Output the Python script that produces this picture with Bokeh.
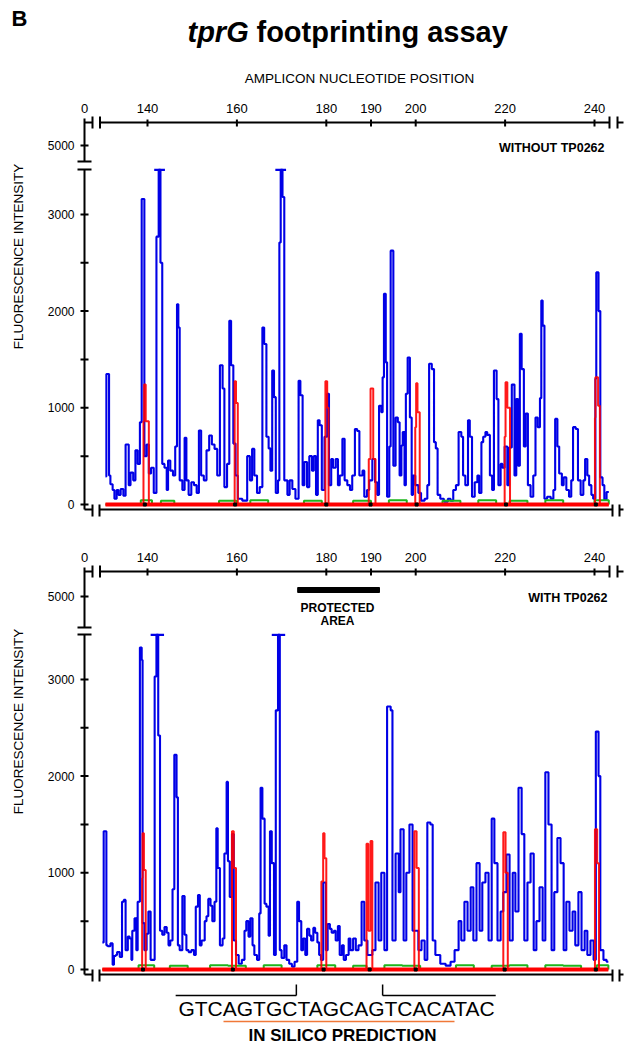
import math
from bokeh.plotting import figure
from bokeh.models import Range1d
from bokeh.core.properties import value
from bokeh.embed import file_html
from bokeh.resources import INLINE

# ---------------- data ----------------
top_tick_pos = [140, 160, 180, 190, 200, 220, 240]
top_tick_labels = ["140", "160", "180", "190", "200", "220", "240"]
y_tick_vals = [0, 500, 1000, 1500, 2000, 2500, 3000]
y_label_vals = [0, 1000, 2000, 3000]
y_label_text = ["0", "1000", "2000", "3000"]
upper_tick_label = "5000"
clip_level = 3460

# panel 1 (without TP0262) blue trace: nucleotide position / intensity
blue1_pos = [130.6, 130.8, 131.4, 131.7, 132.2, 132.6, 133.1, 133.5, 134.0, 134.6,
             135.1, 135.8, 136.2, 136.8, 137.3, 137.8, 138.3, 138.7, 139.3, 139.8,
             140.3, 140.8, 141.4, 142.0, 142.5, 142.9, 143.3, 143.8, 144.3, 144.6,
             145.1, 145.7, 146.2, 146.6, 146.9, 147.2, 147.8, 148.3, 148.7, 149.2,
             149.8, 150.4, 151.0, 151.5, 152.0, 152.6, 153.2, 153.8, 154.4, 155.0,
             155.6, 156.2, 156.8, 157.2, 157.8, 158.3, 158.7, 159.2, 159.7, 160.2,
             161.2, 162.3, 162.9, 163.4, 163.9, 164.5, 165.1, 165.7, 166.1, 166.6,
             167.1, 167.5, 167.9, 168.3, 168.7, 169.2, 169.5, 169.8, 170.2, 170.6,
             171.3, 171.8, 172.4, 173.1, 173.8, 174.2, 174.7, 175.1, 175.7, 176.2,
             176.8, 177.2, 177.7, 178.1, 178.5, 179.0, 179.6, 180.2, 180.6, 181.1,
             181.5, 182.1, 182.6, 183.0, 183.6, 184.1, 184.7, 185.3, 185.8, 186.4,
             186.9, 187.4, 188.1, 188.5, 189.1, 189.6, 190.3, 190.9, 191.4, 191.8,
             192.3, 192.6, 192.9, 193.3, 193.6, 194.1, 194.4, 195.0, 195.5, 196.0,
             196.4, 196.8, 197.1, 197.5, 197.8, 198.2, 198.7, 199.1, 199.4, 199.9,
             200.6, 201.2, 202.0, 202.6, 203.0, 203.6, 204.1, 204.5, 204.9, 205.5,
             206.3, 207.2, 207.8, 208.4, 209.0, 209.6, 210.2, 210.6, 211.1, 211.7,
             212.1, 212.6, 213.2, 213.8, 214.2, 214.7, 215.1, 215.6, 216.0, 216.6,
             217.1, 217.5, 218.1, 218.5, 219.0, 219.4, 219.9, 220.5, 220.9, 221.5,
             222.1, 222.5, 222.9, 223.3, 223.7, 224.2, 224.6, 225.1, 225.7, 226.3,
             226.8, 227.3, 227.8, 228.1, 228.4, 228.8, 229.4, 230.2, 230.8, 231.2,
             231.7, 232.1, 232.7, 233.1, 233.7, 234.3, 234.8, 235.2, 235.8, 236.3,
             236.9, 237.5, 237.9, 238.4, 238.8, 239.3, 239.7, 240.2, 240.4, 240.9,
             241.3, 241.8, 242.2, 242.7, 243.2]
blue1_val = [290, 1350, 300, 210, 150, 60, 150, 100, 160, 90,
             620, 200, 330, 250, 560, 420, 850, 3160, 500, 620,
             320, 380, 120, 2770, 3460, 2500, 420, 380, 150, 455,
             350, 300, 600, 2070, 1830, 250, 150, 690, 250, 100,
             230, 200, 120, 765, 300, 250, 560, 713, 620, 575,
             300, 1440, 1200, 180, 420, 1900, 1440, 630, 300, 60,
             40, 500, 250, 575, 300, 120, 180, 1830, 1660, 700,
             580, 350, 1385, 1110, 120, 250, 2710, 3460, 3180, 250,
             100, 250, 160, 60, 1280, 1130, 200, 440, 180, 500,
             350, 500, 100, 870, 820, 150, 700, 1145, 200, 470,
             380, 470, 200, 300, 680, 250, 200, 150, 300, 780,
             760, 300, 350, 80, 150, 250, 470, 230, 100, 1020,
             955, 1315, 2180, 1470, 80, 600, 2625, 400, 900, 850,
             300, 610, 750, 200, 1145, 1520, 900, 100, 300, 200,
             120, 40, 60, 200, 1455, 1400, 645, 580, 100, 60,
             30, 60, 40, 150, 200, 750, 700, 300, 200, 870,
             700, 80, 230, 300, 120, 645, 700, 750, 720, 300,
             150, 1385, 1090, 200, 420, 380, 600, 200, 590, 1240,
             300, 1090, 400, 1765, 1400, 600, 940, 200, 80, 300,
             900, 800, 1100, 2110, 1850, 60, 80, 60, 150, 885,
             600, 320, 200, 280, 150, 80, 250, 800, 780, 250,
             100, 250, 470, 300, 200, 100, 60, 1300, 2400, 2000,
             280, 200, 50, 130, 130]

# panel 2 (with TP0262) blue trace
blue2_pos = [129.9, 130.2, 130.8, 131.1, 131.7, 132.2, 132.5, 132.9, 133.2, 133.8,
             134.3, 134.7, 135.1, 135.6, 136.0, 136.4, 136.6, 137.1, 137.5, 137.8,
             138.3, 138.7, 138.9, 139.3, 139.8, 140.2, 140.7, 141.6, 142.0, 142.4,
             142.8, 143.3, 143.8, 144.3, 144.7, 145.1, 145.6, 146.0, 146.5, 146.8,
             147.2, 147.8, 148.3, 148.7, 149.2, 149.8, 150.4, 150.8, 151.3, 151.7,
             152.1, 152.8, 153.2, 153.6, 154.1, 154.5, 155.0, 155.4, 155.7, 156.2,
             156.8, 157.2, 157.7, 158.0, 158.4, 158.9, 159.3, 159.8, 160.4, 161.1,
             161.7, 162.1, 162.6, 163.0, 163.5, 163.9, 164.5, 165.0, 165.3, 165.7,
             166.2, 166.6, 167.1, 167.4, 167.8, 168.3, 168.7, 169.2, 169.6, 170.0,
             170.6, 171.1, 171.7, 172.3, 172.9, 173.5, 173.9, 174.4, 174.8, 175.3,
             175.7, 176.2, 176.6, 177.1, 177.5, 178.0, 178.4, 178.8, 179.3, 179.9,
             180.3, 180.8, 181.2, 181.7, 182.1, 182.6, 183.0, 183.5, 183.9, 184.4,
             185.0, 185.4, 186.0, 186.6, 187.2, 187.9, 188.5, 189.2, 190.3, 191.0,
             191.7, 192.3, 193.0, 193.6, 194.4, 194.8, 195.5, 196.2, 196.6, 197.3,
             197.9, 198.6, 199.3, 200.6, 201.3, 202.0, 202.6, 203.3, 203.8, 204.4,
             205.5, 206.7, 207.8, 208.7, 209.6, 210.2, 210.9, 211.6, 212.3, 212.9,
             213.6, 214.3, 214.9, 215.6, 216.3, 217.0, 217.6, 218.3, 219.0, 219.6,
             220.3, 221.0, 221.7, 222.3, 223.0, 223.7, 224.3, 225.0, 225.7, 226.4,
             227.0, 227.7, 228.4, 229.0, 229.7, 230.4, 231.0, 231.7, 232.4, 233.1,
             233.7, 234.4, 235.1, 235.7, 236.4, 237.1, 237.8, 238.4, 239.1, 239.8,
             240.3, 240.9, 241.3, 242.0, 242.7, 243.1]
blue2_val = [280, 1430, 250, 240, 270, 50, 140, 150, 180, 130,
             700, 720, 200, 340, 320, 100, 400, 530, 200, 700,
             3330, 3200, 480, 200, 370, 600, 100, 3030, 3460, 2420,
             400, 360, 440, 380, 250, 300, 830, 2220, 1780, 250,
             200, 760, 360, 200, 180, 200, 150, 650, 770, 250,
             300, 500, 550, 730, 660, 500, 700, 1460, 1050, 250,
             320, 1200, 1940, 1120, 750, 1400, 300, 150, 60, 100,
             400, 500, 340, 530, 250, 150, 100, 580, 1880, 1560,
             680, 650, 350, 1430, 1100, 150, 2680, 3460, 200, 120,
             250, 100, 60, 30, 80, 700, 500, 200, 320, 150,
             420, 350, 300, 430, 380, 280, 150, 100, 900, 200,
             470, 420, 380, 400, 300, 450, 150, 250, 100, 150,
             320, 200, 320, 200, 250, 700, 300, 150, 200, 900,
             300, 1000, 200, 2720, 2680, 300, 1200, 800, 1450, 300,
             1000, 1500, 400, 200, 300, 100, 1520, 1500, 300, 150,
             60, 40, 80, 200, 500, 300, 700, 400, 850, 300,
             1100, 400, 900, 1000, 300, 1560, 1100, 300, 600, 800,
             1190, 300, 1000, 600, 1880, 1400, 300, 900, 1200, 200,
             500, 850, 300, 2040, 1500, 200, 800, 1360, 1100, 200,
             700, 400, 600, 250, 800, 200, 400, 150, 300, 100,
             2460, 2000, 200, 100, 80, 80]

# red traces
red1_pos = [130.6, 139.1, 139.25, 139.6, 140.3, 159.5, 159.8, 160.2, 179.8, 180.2,
            180.5, 189.5, 189.9, 190.5, 191.0, 199.9, 200.1, 200.4, 200.9, 219.9,
            220.1, 220.5, 221.1, 240.1, 240.2, 240.8, 241.2, 243.2]
red1_val = [0, 860, 1240, 860, 0, 1275, 1050, 0, 1275, 1000,
            0, 470, 1200, 470, 0, 800, 1255, 955, 0, 700,
            1265, 1000, 0, 900, 1315, 1020, 0, 0]
red2_pos = [129.9, 138.8, 138.9, 139.2, 139.6, 158.9, 159.3, 159.8, 178.9, 179.3,
            179.6, 180.0, 189.0, 189.4, 189.9, 190.3, 199.7, 200.2, 200.7, 219.6,
            220.1, 220.6, 240.1, 240.6, 241.0, 243.1]
red2_val = [0, 945, 1410, 1030, 0, 1430, 1050, 0, 910, 1410,
            1150, 0, 1300, 400, 1330, 0, 1430, 1050, 0, 1420,
            1000, 0, 1450, 1100, 0, 0]

# green traces (low level, mostly hidden by the red baseline)
green1_pos = [130.6, 138.5, 141.0, 143.0, 146.0, 150.0, 156.0, 160.0, 163.0, 167.0,
              171.0, 175.0, 179.0, 181.0, 186.0, 190.0, 194.0, 198.0, 201.0, 206.0,
              210.0, 214.0, 218.0, 221.0, 225.0, 229.0, 233.0, 237.0, 240.0, 243.2]
green1_val = [0, 45, 0, 40, 0, 0, 40, 0, 45, 0,
              0, 40, 0, 0, 40, 0, 45, 0, 0, 40,
              0, 45, 0, 40, 0, 45, 0, 0, 45, 0]
green2_pos = [129.9, 138.0, 141.5, 145.0, 149.0, 154.0, 158.0, 162.0, 166.0, 170.0,
              174.0, 178.0, 182.0, 186.0, 189.0, 193.0, 197.0, 201.0, 205.0, 209.0,
              213.0, 217.0, 221.0, 225.0, 229.0, 233.0, 237.0, 240.5, 243.1]
green2_val = [0, 45, 0, 40, 0, 45, 40, 0, 45, 0,
              0, 45, 0, 40, 0, 45, 40, 0, 0, 45,
              0, 40, 45, 0, 45, 40, 0, 45, 0]

marks1 = [139.4, 159.6, 180.0, 189.9, 200.2, 220.2, 240.3]
marks2 = [139.0, 159.1, 179.4, 189.7, 200.0, 219.9, 240.3]
caps1 = [142.7, 169.8]
caps2 = [142.2, 169.3]

protected_start, protected_end = 173.6, 191.9
prediction_left, prediction_core_start = 146.3, 173.3
prediction_core_end, prediction_right = 192.6, 217.9
sequence_text = "GTCAGTGCTAGCAGTCACATAC"

# ---------------- layout ----------------
W, H = 630, 1048
PX_PER_NT = 4.47
NT_REF, NT_REF_PX = 140.0, 147.0
PX_PER_UNIT = 0.0967
P1_ZERO, P2_ZERO = 504.0, 969.0
FONT = "Liberation Sans"
BLUE, RED, GREEN = "#0000E6", "#FF0000", "#1DB51D"


def nt_at(px):
    return NT_REF + (px - NT_REF_PX) / PX_PER_NT


def val_at(py, zero):
    return (zero - py) / PX_PER_UNIT


p = figure(width=W, height=H,
           x_range=Range1d(nt_at(0), nt_at(W)),
           y_range=Range1d(val_at(H, P1_ZERO), val_at(0, P1_ZERO)),
           x_axis_location=None, y_axis_location=None,
           toolbar_location=None, output_backend="svg", min_border=0)
p.outline_line_color = None
p.background_fill_color = "white"
p.border_fill_color = "white"
p.grid.visible = False
p.xgrid.grid_line_color = None
p.ygrid.grid_line_color = None
p.extra_x_ranges = {"px": Range1d(0, W)}
p.extra_y_ranges = {"py": Range1d(H, 0),
                    "p2": Range1d(val_at(H, P2_ZERO), val_at(0, P2_ZERO))}


def txt(x, y, s, size, style="normal", align="center", angle=0.0,
        xr="px", yr="py", color="black", font=FONT):
    p.text(x=[x], y=[y], text=[s], text_font=value(font),
           text_font_size=f"{size}px", text_font_style=style,
           text_align=align, text_baseline="middle", angle=angle,
           text_color=color, x_range_name=xr, y_range_name=yr)


def segs(lines, width=2.0, color="black", xr="px", yr="py"):
    p.segment(x0=[l[0] for l in lines], y0=[l[1] for l in lines],
              x1=[l[2] for l in lines], y1=[l[3] for l in lines],
              line_color=color, line_width=width,
              x_range_name=xr, y_range_name=yr)


def panel(yr, top, upper_bot, lower_top, bottom, five_y, lab_y, fl_y,
          bpos, bval, rpos, rval, gpos, gval, caps, cap_half, marks):
    # traces
    p.step(x=bpos, y=bval, mode="after", line_color=BLUE, line_width=2.1,
           y_range_name=yr)
    p.segment(x0=[c - cap_half for c in caps], y0=[clip_level] * len(caps),
              x1=[c + cap_half for c in caps], y1=[clip_level] * len(caps),
              line_color=BLUE, line_width=2.2, y_range_name=yr)
    p.step(x=gpos, y=gval, mode="after", line_color=GREEN, line_width=2,
           y_range_name=yr)
    p.segment(x0=[bpos[0]], y0=[0], x1=[bpos[-1]], y1=[0], line_color=RED,
              line_width=4, y_range_name=yr)
    p.step(x=rpos, y=rval, mode="after", line_color=RED, line_width=2,
           line_alpha=0.9, y_range_name=yr)
    p.scatter(x=marks, y=[0] * len(marks), marker="square", size=3,
              color="black", y_range_name=yr)
    # axis frame with breaks
    segs([(84, top - 4, 84, upper_bot), (84, lower_top, 84, bottom),
          (77, upper_bot, 91, upper_bot), (77, lower_top, 91, lower_top),
          (84, top, 92, top), (99.5, top, 609, top), (617, top, 623, top),
          (92, top - 6, 92, top + 6), (99.5, top - 6, 99.5, top + 6),
          (609, top - 6, 609, top + 6), (617, top - 6, 617, top + 6),
          (84, bottom, 92, bottom), (99, bottom, 612, bottom), (619, bottom, 623, bottom),
          (92, bottom - 5, 92, bottom + 7), (99, bottom - 5, 99, bottom + 7),
          (612, bottom - 5, 612, bottom + 7), (619, bottom - 5, 619, bottom + 7),
          (80, five_y, 88, five_y)])
    # top ticks and labels
    p.segment(x0=top_tick_pos, y0=[top - 3] * len(top_tick_pos),
              x1=top_tick_pos, y1=[top + 4] * len(top_tick_pos),
              line_color="black", line_width=2, y_range_name="py")
    p.text(x=top_tick_pos, y=[lab_y] * len(top_tick_pos), text=top_tick_labels,
           text_font=value(FONT), text_font_size="13px", text_align="center",
           text_baseline="middle", y_range_name="py")
    txt(84, lab_y, "0", 13)
    # y ticks and labels
    p.segment(x0=[80] * len(y_tick_vals), y0=y_tick_vals,
              x1=[88] * len(y_tick_vals), y1=y_tick_vals,
              line_color="black", line_width=2, x_range_name="px", y_range_name=yr)
    p.text(x=[74] * len(y_label_vals), y=y_label_vals, text=y_label_text,
           text_font=value(FONT), text_font_size="12px", text_align="right",
           text_baseline="middle", x_range_name="px", y_range_name=yr)
    txt(74, five_y, upper_tick_label, 12, align="right")
    txt(18, fl_y, "FLUORESCENCE INTENSITY", 13.5, angle=math.pi / 2)


# header
txt(11, 18, "B", 22, style="bold", align="left")
txt(187, 31, "tprG", 29, style="bold italic", align="left")
txt(256, 31, "footprinting assay", 29, style="bold", align="left")
txt(359, 78, "AMPLICON NUCLEOTIDE POSITION", 13.5)

panel("default", 122, 161, 169, 509, 145, 108, 256,
      blue1_pos, blue1_val, red1_pos, red1_val, green1_pos, green1_val,
      caps1, 1.2, marks1)
txt(604, 147, "WITHOUT TP0262", 12.5, style="bold", align="right")

panel("p2", 571, 627, 634, 974, 596, 557, 721,
      blue2_pos, blue2_val, red2_pos, red2_val, green2_pos, green2_val,
      caps2, 1.5, marks2)
txt(607, 597, "WITH TP0262", 12.5, style="bold", align="right")

# protected area
p.quad(left=[protected_start], right=[protected_end], top=[587], bottom=[592],
       color="black", y_range_name="py")
txt(337, 607, "PROTECTED", 12, style="bold")
txt(337, 620, "AREA", 12, style="bold")

# in silico prediction
segs([(prediction_left, 995, prediction_core_start, 995),
      (prediction_core_start, 984, prediction_core_start, 995),
      (prediction_core_end, 984, prediction_core_end, 995),
      (prediction_core_end, 995, prediction_right, 995)],
     width=1.5, xr="default")
txt(336, 1008, sequence_text, 21)
segs([(223, 1021, 454, 1021)], width=1.5, color="#F07838")
txt(342, 1035, "IN SILICO PREDICTION", 17, style="bold")

open("out.html", "w").write(file_html(p, INLINE))
